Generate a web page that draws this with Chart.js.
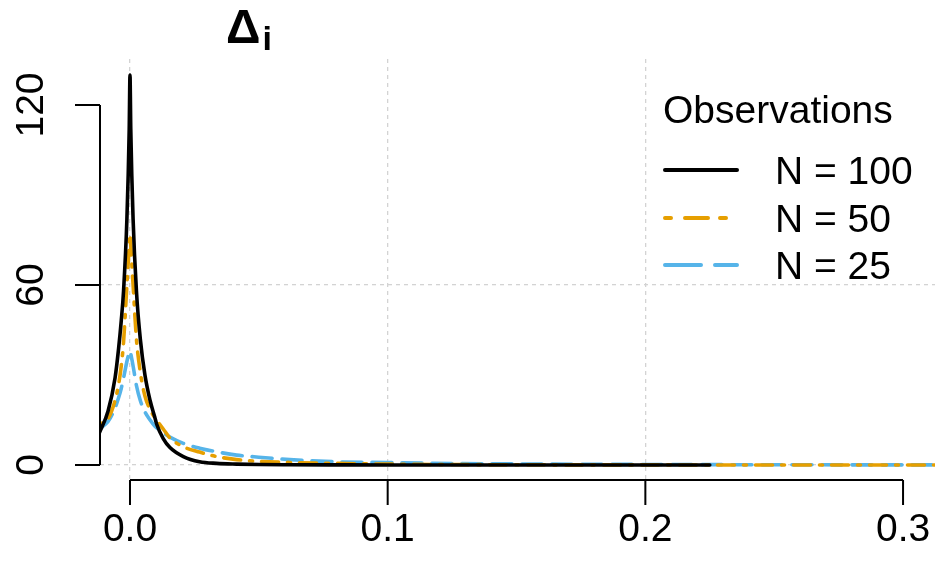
<!DOCTYPE html>
<html><head><meta charset="utf-8">
<script src="https://cdn.jsdelivr.net/npm/chart.js@4.4.1/dist/chart.umd.min.js"></script>
<style>html,body{margin:0;padding:0;background:#fff;}canvas{display:block;}</style>
</head><body>
<canvas id="c" width="935" height="570"></canvas>
<script>
// ---- data ----
const xValues = [-0.012, -0.0085, -0.0058, -0.0044, -0.0034, -0.0025, -0.0012, -0.0003, 0, 0.0003, 0.0012, 0.0025, 0.004, 0.0058, 0.0078, 0.0096, 0.0104, 0.0129, 0.0155, 0.0207, 0.027, 0.0336, 0.0414, 0.05, 0.062, 0.079, 0.1, 0.125, 0.15, 0.2, 0.225, 0.25, 0.3, 0.32];
const n100 = [10.5, 18, 29, 39, 48, 58, 82, 112, 130, 112, 82, 58, 42, 30, 21.5, 16, 13.5, 8.8, 5.8, 2.8, 1.1, 0.55, 0.3, 0.15, 0.08, 0.04, 0.02, 0.01, 0, 0, 0, null, null, null];
const n50  = [13.5, 15.5, 21.5, 27, 33, 41, 60, 73, 77, 73, 60, 42, 31, 23, 18.5, 15.8, 14.8, 12, 9, 6.1, 4.3, 2.8, 1.8, 1.2, 0.85, 0.55, 0.3, 0.15, 0.08, 0.03, 0.02, 0.01, 0.005, 0];
const n25  = [12, 14.5, 19, 22.5, 25.5, 29, 34.5, 37.5, 38, 37, 33, 26.5, 21.5, 17.7, 15, 13, 12.4, 10.8, 9.3, 7.2, 5.6, 4.4, 3.3, 2.6, 1.8, 1.1, 0.8, 0.5, 0.35, 0.18, 0.12, 0.08, 0.04, 0.03];
const seriesLabels = ['N = 100', 'N = 50', 'N = 25'];
const legendTitle = 'Observations';
const xTicks = [0, 0.1, 0.2, 0.3];
const xTickLabels = ['0.0', '0.1', '0.2', '0.3'];
const yTicks = [0, 60, 120];
const yTickLabels = ['0', '60', '120'];
const xGridAt = [0, 0.1, 0.2];
const yGridAt = [0, 60];
const titleMain = 'Δ';
const titleSub = 'i';

// ---- styling ----
const FONT = '"Liberation Sans", Arial, Helvetica, sans-serif';
const colors = ['#000000', '#E69F00', '#56B4E9'];
const plotDash = [[], [3, 9, 17, 9], [20, 10]];
const legendDash = [[], [6, 14, 23, 12], [36, 14]];
const drawOrder = [1, 2, 3];
const LW = 3.6;

function pts(ys) { return xValues.map((x, i) => ({ x: x, y: ys[i] })); }

const axesPlugin = {
  id: 'rAxes',
  afterDraw(chart) {
    const ctx = chart.ctx;
    const xs = chart.scales.x, ys = chart.scales.y;
    const ca = chart.chartArea;
    ctx.save();
    ctx.strokeStyle = '#000';
    ctx.fillStyle = '#000';
    ctx.lineWidth = 2;
    ctx.lineCap = 'butt';
    // x axis
    const axY = ca.bottom;
    ctx.beginPath();
    ctx.moveTo(xs.getPixelForValue(xTicks[0]), axY);
    ctx.lineTo(xs.getPixelForValue(xTicks[xTicks.length - 1]), axY);
    xTicks.forEach(v => {
      const px = xs.getPixelForValue(v);
      ctx.moveTo(px, axY);
      ctx.lineTo(px, axY + 25);
    });
    ctx.stroke();
    ctx.font = '39px ' + FONT;
    ctx.textAlign = 'center';
    ctx.textBaseline = 'alphabetic';
    xTicks.forEach((v, i) => {
      ctx.fillText(xTickLabels[i], xs.getPixelForValue(v), axY + 61);
    });
    // y axis
    const axX = ca.left;
    ctx.beginPath();
    ctx.moveTo(axX, ys.getPixelForValue(yTicks[0]));
    ctx.lineTo(axX, ys.getPixelForValue(yTicks[yTicks.length - 1]));
    yTicks.forEach(v => {
      const py = ys.getPixelForValue(v);
      ctx.moveTo(axX, py);
      ctx.lineTo(axX - 25, py);
    });
    ctx.stroke();
    yTicks.forEach((v, i) => {
      const py = ys.getPixelForValue(v);
      ctx.save();
      ctx.translate(axX - 57, py);
      ctx.rotate(-Math.PI / 2);
      ctx.fillText(yTickLabels[i], 0, 0);
      ctx.restore();
    });
    // title
    ctx.textAlign = 'left';
    ctx.font = 'bold 48px ' + FONT;
    ctx.fillText(titleMain, 226, 43);
    const w = ctx.measureText(titleMain).width;
    ctx.font = 'bold 34px ' + FONT;
    ctx.fillText(titleSub, 226 + w + 2, 50);
    // legend
    ctx.font = '39px ' + FONT;
    ctx.fillText(legendTitle, 663, 123);
    const rowY = [170, 218, 265];
    chart.data.datasets.forEach((ds, i) => {
      ctx.save();
      ctx.strokeStyle = ds.borderColor;
      ctx.lineWidth = 4;
      ctx.lineCap = 'round';
      ctx.setLineDash(legendDash[i]);
      ctx.beginPath();
      ctx.moveTo(665, rowY[i]);
      ctx.lineTo(737, rowY[i]);
      ctx.stroke();
      ctx.restore();
      ctx.fillText(ds.label, 775, rowY[i] + 14);
    });
    ctx.restore();
  }
};

new Chart(document.getElementById('c'), {
  type: 'line',
  data: {
    datasets: [n100, n50, n25].map((ys, i) => ({
      label: seriesLabels[i],
      data: pts(ys),
      borderColor: colors[i],
      backgroundColor: colors[i],
      borderWidth: LW,
      borderDash: plotDash[i],
      borderCapStyle: 'round',
      borderJoinStyle: 'round',
      pointRadius: 0,
      cubicInterpolationMode: 'monotone',
      fill: false,
      spanGaps: false,
      order: drawOrder[i]
    }))
  },
  options: {
    responsive: false,
    animation: false,
    devicePixelRatio: 1,
    layout: { padding: { left: 100, top: 59, right: 0, bottom: 90 } },
    plugins: { legend: { display: false }, tooltip: { enabled: false }, title: { display: false } },
    scales: {
      x: {
        type: 'linear', min: -0.01164, max: 0.3124,
        afterBuildTicks: s => { s.ticks = xTicks.map(v => ({ value: v })); },
        ticks: { display: false },
        border: { display: false, dash: [4, 4] },
        grid: {
          drawTicks: false, lineWidth: 1.3,
          color: c => (c.tick && xGridAt.includes(c.tick.value)) ? '#d3d3d3' : 'rgba(0,0,0,0)'
        }
      },
      y: {
        type: 'linear', min: -5, max: 135.33,
        afterBuildTicks: s => { s.ticks = yTicks.map(v => ({ value: v })); },
        ticks: { display: false },
        border: { display: false, dash: [4, 4] },
        grid: {
          drawTicks: false, lineWidth: 1.3,
          color: c => (c.tick && yGridAt.includes(c.tick.value)) ? '#d3d3d3' : 'rgba(0,0,0,0)'
        }
      }
    }
  },
  plugins: [axesPlugin]
});
</script>
</body></html>
